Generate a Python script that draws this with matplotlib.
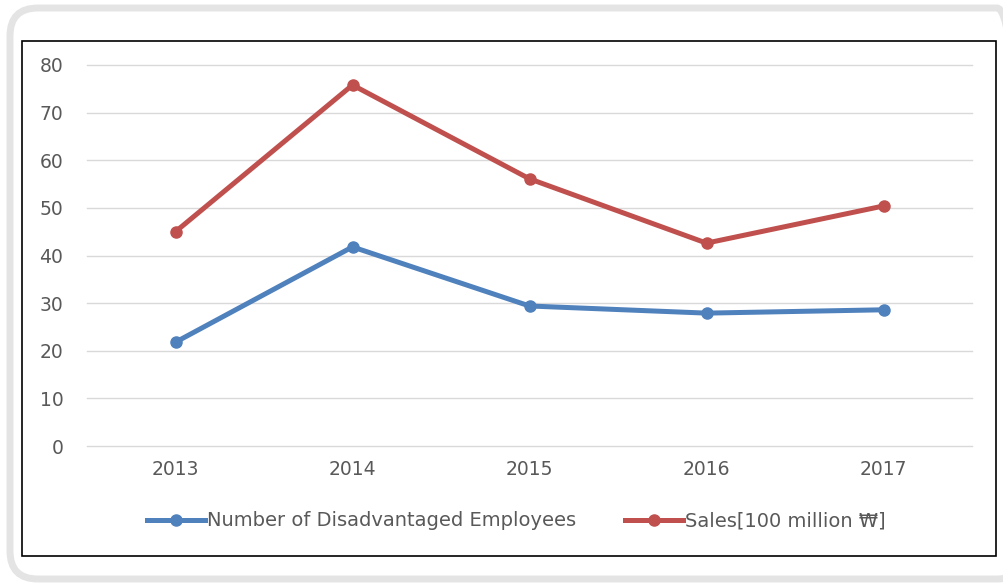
import matplotlib
matplotlib.use("Agg")
import matplotlib.pyplot as plt
from matplotlib.patches import FancyBboxPatch, Rectangle
from matplotlib.transforms import IdentityTransform

years = ["2013", "2014", "2015", "2016", "2017"]
employees = [21.8, 41.8, 29.4, 27.9, 28.6]
sales = [45.0, 75.8, 56.1, 42.6, 50.4]
y_ticks = [0, 10, 20, 30, 40, 50, 60, 70, 80]

BLUE = "#4F81BD"
RED = "#C0504D"
TEXT = "#595959"

W, H = 1004, 587
fig = plt.figure(figsize=(W / 100, H / 100), dpi=100)

# outer rounded light-gray frame (pixel coords, origin bottom-left);
# its right side runs off the picture
fig.patches.append(FancyBboxPatch(
    (10, H - 579), 1015, 571,
    boxstyle="round,pad=0,rounding_size=28", transform=IdentityTransform(),
    facecolor="none", edgecolor="#E4E4E4", linewidth=5, zorder=0))
# inner black chart border
fig.patches.append(Rectangle(
    (22, H - 556), 996 - 22, 556 - 41, transform=IdentityTransform(),
    facecolor="none", edgecolor="black", linewidth=1.2, zorder=0))

ax = fig.add_axes([87 / W, 1 - 446 / H, (972 - 87) / W, (446 - 65) / H])
ax.set_zorder(2)
ax.set_facecolor("none")
x = range(len(years))
ax.plot(x, employees, color=BLUE, lw=3.6, marker="o", ms=8,
        label="Number of Disadvantaged Employees", zorder=3)
ax.plot(x, sales, color=RED, lw=3.6, marker="o", ms=8,
        label="Sales[100 million \u20a9]", zorder=3)

ax.set_xlim(-0.5, len(years) - 0.5)
ax.set_ylim(0, 80)
ax.set_yticks(y_ticks)
ax.set_xticks(list(x))
ax.set_xticklabels(years)
ax.grid(axis="y", color="#D9D9D9", lw=1)
for gl in ax.get_ygridlines():
    gl.set_clip_on(False)
ax.set_axisbelow(True)
for s in ax.spines.values():
    s.set_visible(False)
ax.tick_params(length=0, colors=TEXT, labelsize=13.5)
ax.tick_params(axis="y", pad=17)
ax.tick_params(axis="x", pad=10)

ax.legend(loc="center", bbox_to_anchor=(516 / W, 1 - 521 / H),
          bbox_transform=fig.transFigure, ncol=2, frameon=False,
          fontsize=14, labelcolor=TEXT, handlelength=3.0, handletextpad=0.1,
          columnspacing=2.5)

fig.savefig("out.png", dpi=100)
